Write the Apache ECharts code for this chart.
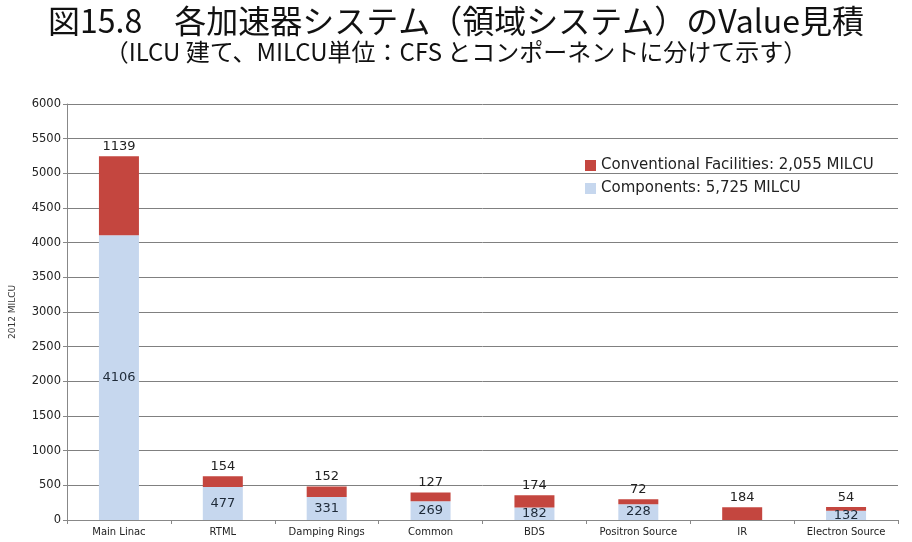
<!DOCTYPE html>
<html><head><meta charset="utf-8">
<script src="https://cdn.jsdelivr.net/npm/echarts@6/dist/echarts.min.js"></script>
<style>html,body{margin:0;padding:0;background:#fff}#c{width:912px;height:542px}</style>
</head><body><div id="c"></div>
<script>
const categories = ['Main Linac','RTML','Damping Rings','Common','BDS','Positron Source','IR','Electron Source'];
const components = [4106,477,331,269,182,228,0,132];
const cfs = [1139,154,152,127,174,72,184,54];
const yTicks = {min:0, max:6000, interval:500};
const seriesNames = ['Conventional Facilities: 2,055 MILCU','Components: 5,725 MILCU'];

const chart = echarts.init(document.getElementById('c'));
chart.setOption({
  animation:false,
  title:[
    {text:'図15.8　各加速器システム（領域システム）のValue見積', left:'center', top:0,
     textStyle:{fontFamily:'Noto Sans CJK JP', fontSize:32, fontWeight:'normal', color:'#111'}},
    {text:'（ILCU 建て、MILCU単位：CFS とコンポーネントに分けて示す）', left:'center', top:35,
     textStyle:{fontFamily:'Noto Sans CJK JP', fontSize:24, fontWeight:'normal', color:'#111'}}
  ],
  legend:{orient:'vertical', left:580, top:153, itemWidth:11, itemHeight:11, itemGap:8,
    icon:'rect',
    data:[seriesNames[0], seriesNames[1]],
    textStyle:{fontFamily:'DejaVu Sans', fontSize:15, color:'#222'}},
  grid:{left:66, right:14, top:104, bottom:22},
  xAxis:{type:'category', data:categories,
    axisLine:{lineStyle:{color:'#888'}},
    axisTick:{show:true, length:4, lineStyle:{color:'#888'}},
    axisLabel:{fontFamily:'DejaVu Sans', fontSize:10, color:'#222', margin:7}},
  yAxis:{type:'value', min:yTicks.min, max:yTicks.max, interval:yTicks.interval,
    name:'2012 MILCU', nameLocation:'middle', nameGap:50, nameRotate:90,
    nameTextStyle:{fontFamily:'DejaVu Sans', fontSize:9, color:'#333'},
    axisLine:{show:true, lineStyle:{color:'#888'}},
    axisTick:{show:true, length:4, lineStyle:{color:'#888'}},
    splitLine:{lineStyle:{color:'#808080'}},
    axisLabel:{fontFamily:'DejaVu Sans', fontSize:11.5, color:'#222', margin:6,
      formatter:v=>String(v)}},
  series:[
    {name:seriesNames[1], type:'bar', stack:'s', data:components, barWidth:40,
     itemStyle:{color:'#c6d7ee'},
     label:{show:true, position:'inside', fontFamily:'DejaVu Sans', fontSize:13, color:'#1e2a38',
       formatter:p=>p.value?String(p.value):''}},
    {name:seriesNames[0], type:'bar', stack:'s', data:cfs, barWidth:40,
     itemStyle:{color:'#c4463f'},
     label:{show:true, position:'top', distance:3, fontFamily:'DejaVu Sans', fontSize:13, color:'#222'}}
  ]
});
</script></body></html>
